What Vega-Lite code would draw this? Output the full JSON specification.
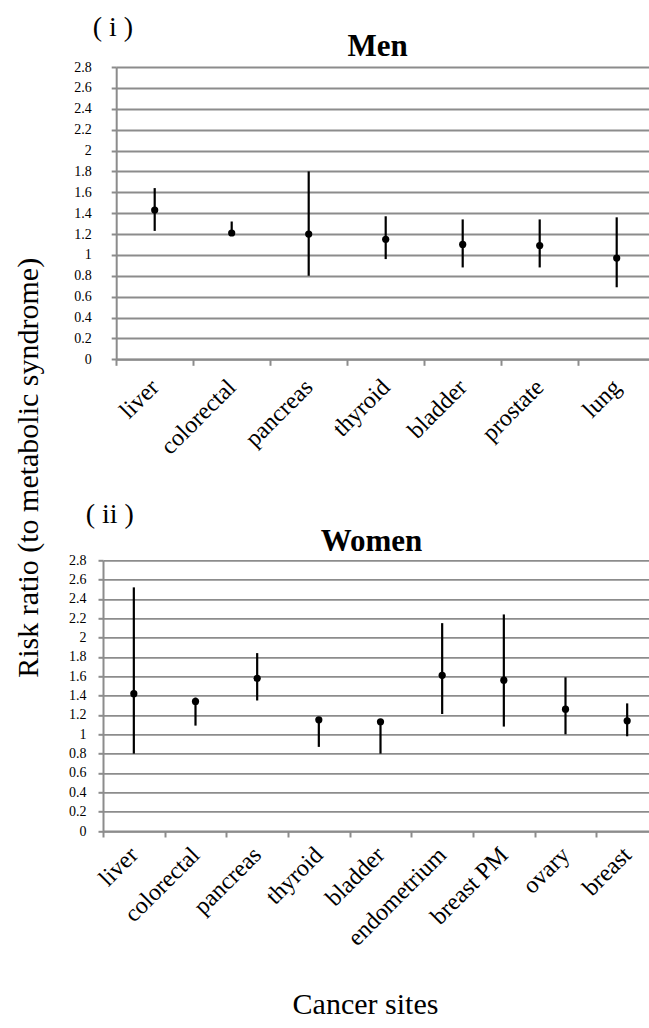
{
  "$schema": "https://vega.github.io/schema/vega-lite/v6.json",
  "background": "white",
  "padding": {"left": 13, "top": 14, "right": 0, "bottom": 0},
  "config": {
    "font": "Liberation Serif",
    "view": {"stroke": null},
    "style": {
      "guide-title": {"font": "Liberation Serif"},
      "guide-label": {"font": "Liberation Serif"},
      "group-title": {"font": "Liberation Serif"}
    },
    "axis": {
      "labelFont": "Liberation Serif",
      "titleFont": "Liberation Serif",
      "labelColor": "black",
      "titleColor": "black",
      "domainColor": "#8c8c8c",
      "domainWidth": 2,
      "tickColor": "#8c8c8c",
      "tickWidth": 2,
      "gridColor": "#8c8c8c",
      "gridWidth": 1.8,
      "gridOpacity": 1,
      "titleFontWeight": "normal"
    },
    "title": {"font": "Liberation Serif", "color": "black"}
  },
  "bounds": "flush",
  "spacing": 200.3,
  "vconcat": [
    {
      "width": 552,
      "height": 292.3,
      "title": {"text": "( i )", "anchor": "start", "frame": "group", "dx": -10.3, "fontSize": 28, "fontWeight": "normal", "baseline": "alphabetic", "offset": -34},
      "data": {"values": [
        {"site": "liver", "rr": 1.43, "lo": 1.23, "hi": 1.64},
        {"site": "colorectal", "rr": 1.21, "lo": 1.19, "hi": 1.32},
        {"site": "pancreas", "rr": 1.20, "lo": 0.80, "hi": 1.80},
        {"site": "thyroid", "rr": 1.15, "lo": 0.96, "hi": 1.37},
        {"site": "bladder", "rr": 1.10, "lo": 0.88, "hi": 1.34},
        {"site": "prostate", "rr": 1.09, "lo": 0.88, "hi": 1.34},
        {"site": "lung", "rr": 0.97, "lo": 0.69, "hi": 1.36}
      ]},
      "layer": [
        {
          "mark": {"type": "rule", "color": "black", "strokeWidth": 2.2},
          "encoding": {
            "x": {"field": "site", "type": "nominal", "sort": null,
              "scale": {"type": "band", "range": [13.2, 552.2], "paddingInner": 0, "paddingOuter": 0},
              "axis": {"orient": "bottom", "title": null, "tickBand": "extent", "tickSize": 6, "labelAngle": -45, "labelAlign": "right", "labelBaseline": "middle", "labelFont": "Liberation Serif", "labelFontSize": 24, "labelPadding": 18, "labelOverlap": false, "labelLimit": 300, "grid": false}},
            "y": {"field": "lo", "type": "quantitative",
              "scale": {"domain": [0, 2.8], "nice": false, "zero": false},
              "axis": {"title": "Risk ratio (to metabolic syndrome)", "titleFont": "Liberation Serif", "titleFontSize": 30, "titleFontWeight": "normal", "titleAngle": -90, "titleX": -87.5, "titleY": 400.3, "titleAlign": "center", "titleBaseline": "middle",
                "values": [0, 0.2, 0.4, 0.6, 0.8, 1, 1.2, 1.4, 1.6, 1.8, 2, 2.2, 2.4, 2.6, 2.8], "tickCount": 30, "format": "~g",
                "offset": -13.2, "tickSize": 5, "labelPadding": 20, "labelFontSize": 14, "labelOverlap": false, "grid": true}},
            "y2": {"field": "hi"}
          }
        },
        {
          "mark": {"type": "circle", "color": "black", "size": 52, "opacity": 1},
          "encoding": {
            "x": {"field": "site", "type": "nominal", "sort": null,
              "axis": {"orient": "top", "title": "Men", "titleFont": "Liberation Serif", "titleFontSize": 31, "titleFontWeight": "bold", "titleX": 274.2, "titleY": -11.7, "titleAlign": "center", "titleBaseline": "alphabetic", "labels": false, "ticks": false, "domain": false, "grid": false}},
            "y": {"field": "rr", "type": "quantitative"}
          }
        }
      ],
      "resolve": {"axis": {"x": "independent"}}
    },
    {
      "width": 555,
      "height": 270.7,
      "title": {"text": "( ii )", "anchor": "start", "frame": "group", "dx": -17.3, "fontSize": 28, "fontWeight": "normal", "baseline": "alphabetic", "offset": -25.5},
      "data": {"values": [
        {"site": "liver", "rr": 1.42, "lo": 0.80, "hi": 2.52},
        {"site": "colorectal", "rr": 1.34, "lo": 1.09, "hi": 1.38},
        {"site": "pancreas", "rr": 1.58, "lo": 1.35, "hi": 1.84},
        {"site": "thyroid", "rr": 1.15, "lo": 0.87, "hi": 1.17},
        {"site": "bladder", "rr": 1.13, "lo": 0.80, "hi": 1.15},
        {"site": "endometrium", "rr": 1.61, "lo": 1.21, "hi": 2.15},
        {"site": "breast PM", "rr": 1.56, "lo": 1.08, "hi": 2.24},
        {"site": "ovary", "rr": 1.26, "lo": 1.00, "hi": 1.59},
        {"site": "breast", "rr": 1.14, "lo": 0.98, "hi": 1.32}
      ]},
      "layer": [
        {
          "mark": {"type": "rule", "color": "black", "strokeWidth": 2.2},
          "encoding": {
            "x": {"field": "site", "type": "nominal", "sort": null,
              "scale": {"type": "band", "paddingInner": 0, "paddingOuter": 0},
              "axis": {"orient": "bottom", "title": "Cancer sites", "titleFont": "Liberation Serif", "titleFontSize": 30, "titleFontWeight": "normal", "titleX": 262, "titleY": 182, "titleAlign": "center", "titleBaseline": "alphabetic", "tickBand": "extent", "tickSize": 6, "labelAngle": -45, "labelAlign": "right", "labelBaseline": "middle", "labelFont": "Liberation Serif", "labelFontSize": 24, "labelPadding": 14, "labelOverlap": false, "labelLimit": 300, "grid": false}},
            "y": {"field": "lo", "type": "quantitative",
              "scale": {"domain": [0, 2.8], "nice": false, "zero": false},
              "axis": {"title": null,
                "values": [0, 0.2, 0.4, 0.6, 0.8, 1, 1.2, 1.4, 1.6, 1.8, 2, 2.2, 2.4, 2.6, 2.8], "tickCount": 30, "format": "~g",
                "tickSize": 5, "labelPadding": 12, "labelFontSize": 14, "labelOverlap": false, "grid": true}},
            "y2": {"field": "hi"}
          }
        },
        {
          "mark": {"type": "circle", "color": "black", "size": 52, "opacity": 1},
          "encoding": {
            "x": {"field": "site", "type": "nominal", "sort": null,
              "axis": {"orient": "top", "title": "Women", "titleFont": "Liberation Serif", "titleFontSize": 31, "titleFontWeight": "bold", "titleX": 268, "titleY": -10, "titleAlign": "center", "titleBaseline": "alphabetic", "labels": false, "ticks": false, "domain": false, "grid": false}},
            "y": {"field": "rr", "type": "quantitative"}
          }
        }
      ],
      "resolve": {"axis": {"x": "independent"}}
    }
  ]
}
